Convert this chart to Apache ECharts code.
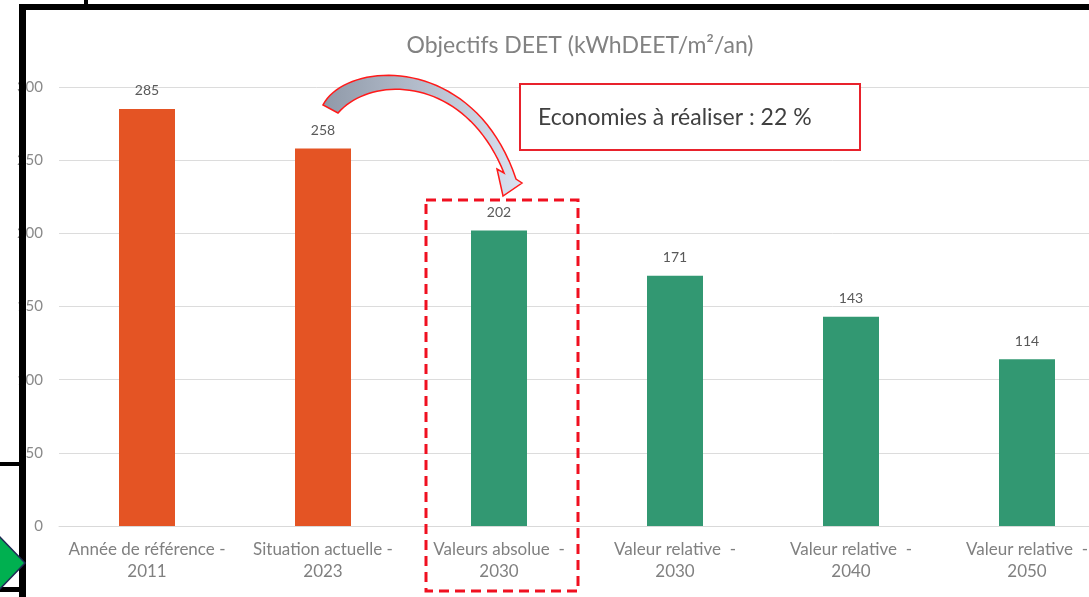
<!DOCTYPE html>
<html>
<head>
<meta charset="utf-8">
<script src="https://cdn.jsdelivr.net/npm/echarts@6/dist/echarts.min.js"></script>
<style>
html,body{margin:0;padding:0;background:#fff;}
#chart{width:1089px;height:597px;}
</style>
</head>
<body>
<div id="chart"></div>
<script>
// ---- data ----
const categories = [
  "Année de référence -\n2011",
  "Situation actuelle -\n2023",
  "Valeurs absolue  -\n2030",
  "Valeur relative  -\n2030",
  "Valeur relative  -\n2040",
  "Valeur relative  -\n2050"
];
const values = [285, 258, 202, 171, 143, 114];
const groups = ["actuel", "actuel", "objectif", "objectif", "objectif", "objectif"];
const yTicks = [0, 50, 100, 150, 200, 250, 300];
const titleText = "Objectifs DEET (kWhDEET/m²/an)";
const noteText = "Economies à réaliser : 22 %";

const groupColors = { actuel: "#E45424", objectif: "#329872" };
const FONT = "Lato, 'Open Sans', sans-serif";

function bez(p0, p1, p2, p3, n) {
  const pts = [];
  for (let i = 0; i <= n; i++) {
    const t = i / n, u = 1 - t;
    pts.push([
      u*u*u*p0[0] + 3*u*u*t*p1[0] + 3*u*t*t*p2[0] + t*t*t*p3[0],
      u*u*u*p0[1] + 3*u*u*t*p1[1] + 3*u*t*t*p2[1] + t*t*t*p3[1]
    ]);
  }
  return pts;
}
const outer = bez([323,105],[346,60],[474,53],[516,179],40);
const inner = bez([504,173],[465,76],[372,74],[338,113],40);
const arrowPts = outer.concat([[522,183],[503,196],[497,169]], inner);

const chart = echarts.init(document.getElementById('chart'), null, {renderer: 'canvas'});
chart.setOption({
  animation: false,
  backgroundColor: '#ffffff',
  title: {
    text: titleText,
    left: 575, top: 29, textAlign: 'center',
    textStyle: { fontFamily: FONT, fontSize: 23, fontWeight: 'normal', color: '#828282' }
  },
  grid: { left: 59, top: 87, width: 1056, height: 439, containLabel: false, outerBoundsMode: 'none' },
  xAxis: {
    type: 'category',
    data: categories,
    axisLine: { show: true, lineStyle: { color: '#d9d9d9', width: 1 } },
    axisTick: { show: false },
    axisLabel: { interval: 0, margin: 13, fontFamily: FONT, fontSize: 17, color: '#808080', lineHeight: 22 }
  },
  yAxis: {
    type: 'value',
    min: yTicks[0], max: yTicks[yTicks.length - 1], interval: 50,
    axisLine: { show: false },
    axisTick: { show: false },
    splitLine: { lineStyle: { color: '#dcdcdc', width: 1 } },
    axisLabel: { margin: 16, fontFamily: FONT, fontSize: 15, color: '#8a8a8a' }
  },
  series: [{
    type: 'bar',
    barWidth: 56,
    data: values.map((v, i) => ({ value: v, itemStyle: { color: groupColors[groups[i]] } })),
    label: { show: true, position: 'top', distance: 11, fontFamily: FONT, fontSize: 14, color: '#595959' }
  }],
  graphic: [
    // red note box
    { type: 'rect', z: 100, shape: { x: 520, y: 84, width: 340, height: 66 },
      style: { fill: '#ffffff', stroke: '#e8222c', lineWidth: 2 } },
    { type: 'text', z: 101, x: 538, y: 118,
      style: { text: noteText, fontFamily: FONT, fontSize: 23, fill: '#404040', verticalAlign: 'middle' } },
    // dashed highlight
    { type: 'rect', z: 100, shape: { x: 426, y: 200, width: 152, height: 391 },
      style: { fill: 'none', stroke: '#f01020', lineWidth: 3, lineDash: [10, 6] } },
    // curved arrow
    { type: 'polygon', z: 102, shape: { points: arrowPts },
      style: {
        fill: { type: 'linear', x: 0, y: 0, x2: 1, y2: 0, global: false,
                colorStops: [{ offset: 0, color: '#8f99a8' }, { offset: 1, color: '#dbe3f2' }] },
        stroke: '#ff1a1a', lineWidth: 1.5
      } },
    // screenshot frame
    { type: 'rect', z: 110, shape: { x: 19, y: 4, width: 1070, height: 6 }, style: { fill: '#000' } },
    { type: 'rect', z: 110, shape: { x: 19, y: 4, width: 7, height: 593 }, style: { fill: '#000' } },
    { type: 'rect', z: 110, shape: { x: 84, y: 0, width: 4, height: 6 }, style: { fill: '#000' } },
    { type: 'rect', z: 110, shape: { x: 0, y: 462, width: 20, height: 4 }, style: { fill: '#000' } },
    { type: 'rect', z: 110, shape: { x: 0, y: 587, width: 20, height: 5 }, style: { fill: '#000' } },
    { type: 'polygon', z: 111, shape: { points: [[-6, 531], [25, 563], [-6, 595]] },
      style: { fill: '#00b050', stroke: '#1f2a55', lineWidth: 1.5 } }
  ]
});
</script>
</body>
</html>
